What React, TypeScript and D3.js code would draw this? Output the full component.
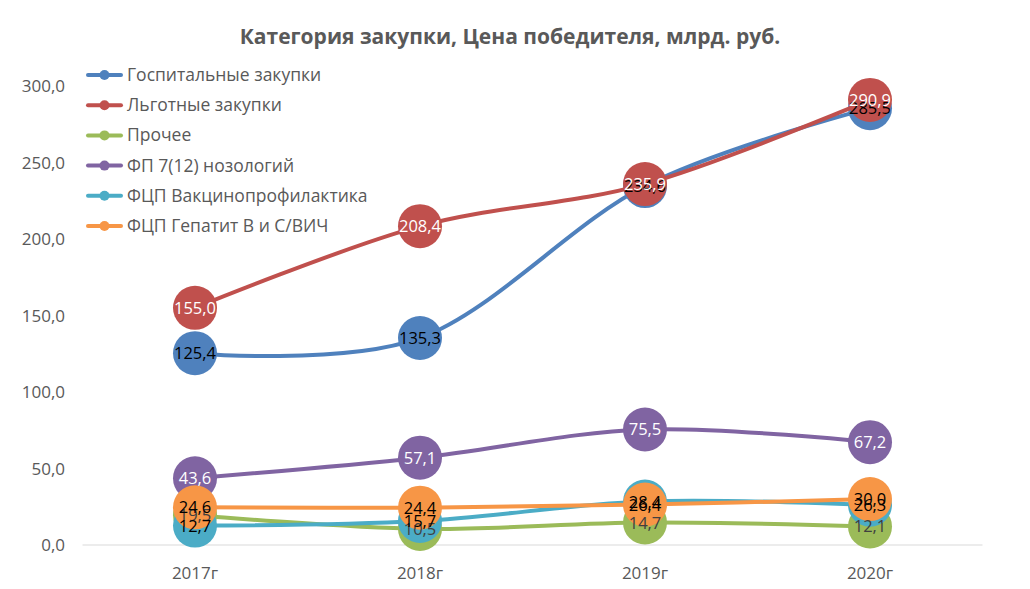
import React from "react";
import * as d3 from "d3";

const categories = ["2017г", "2018г", "2019г", "2020г"];
const seriesNames = [
  "Госпитальные закупки",
  "Льготные закупки",
  "Прочее",
  "ФП 7(12) нозологий",
  "ФЦП Вакцинопрофилактика",
  "ФЦП Гепатит В и С/ВИЧ",
];
const hospital = [125.4, 135.3, 234.6, 285.5];
const preferential = [155.0, 208.4, 235.9, 290.9];
const other = [19.5, 10.5, 14.7, 12.1];
const fp7 = [43.6, 57.1, 75.5, 67.2];
const vaccine = [12.7, 15.7, 28.4, 26.3];
const hepatitis = [24.6, 24.4, 26.4, 30.0];
const yTicks = [0, 50, 100, 150, 200, 250, 300];

const colors = ["#4F81BD", "#C0504D", "#9BBB59", "#8064A2", "#4BACC6", "#F79646"];
const labelColors = ["#000000", "#FFFFFF", "#404040", "#FFFFFF", "#000000", "#000000"];
const allSeries = [hospital, preferential, other, fp7, vaccine, hepatitis];

const W = 1030;
const H = 589;
const font = "'Open Sans', sans-serif";

export default function App() {
  const x = d3.scaleBand<string>().domain(categories).range([82.5, 982.5]);
  const y = d3.scaleLinear().domain([0, 300]).range([545, 86]);
  const cx = (c: string) => (x(c) as number) + x.bandwidth() / 2;
  const line = d3
    .line<number>()
    .x((_, i) => cx(categories[i]))
    .y((d) => y(d))
    .curve(d3.curveCardinal.tension(0));
  const fmt = (v: number) => v.toFixed(1).replace(".", ",");

  return (
    <svg width={W} height={H} style={{ position: "absolute", left: 0, top: 0, background: "#fff" }}>
      <text x={510} y={44} textAnchor="middle" fontFamily={font} fontWeight="bold" fontSize={21} fill="#595959">
        Категория закупки, Цена победителя, млрд. руб.
      </text>
      <line x1={82.5} x2={982.5} y1={y(0)} y2={y(0)} stroke="#d9d9d9" strokeWidth={1} />
      {yTicks.map((t) => (
        <text key={t} x={65} y={y(t) + 6} textAnchor="end" fontFamily={font} fontSize={17} fill="#595959">
          {fmt(t)}
        </text>
      ))}
      {categories.map((c) => (
        <text key={c} x={cx(c)} y={579} textAnchor="middle" fontFamily={font} fontSize={17} fill="#595959">
          {c}
        </text>
      ))}
      {allSeries.map((s, si) => (
        <g key={si}>
          <path d={line(s) as string} fill="none" stroke={colors[si]} strokeWidth={4} strokeLinecap="round" />
          {s.map((v, i) => (
            <circle key={i} cx={cx(categories[i])} cy={y(v)} r={22} fill={colors[si]} />
          ))}
        </g>
      ))}
      {allSeries.map((s, si) => (
        <g key={"l" + si}>
          {s.map((v, i) => (
            <text
              key={i}
              x={cx(categories[i])}
              y={y(v) + 6}
              textAnchor="middle"
              fontFamily={font}
              fontSize={16.5}
              fill={labelColors[si]}
            >
              {fmt(v)}
            </text>
          ))}
        </g>
      ))}
      {seriesNames.map((n, i) => {
        const ly = 75 + i * 30.2;
        return (
          <g key={n}>
            <line x1={88} x2={121} y1={ly} y2={ly} stroke={colors[i]} strokeWidth={4} strokeLinecap="round" />
            <circle cx={104.5} cy={ly} r={5} fill={colors[i]} />
            <text x={127} y={ly + 6} fontFamily={font} fontSize={17.5} fill="#595959">
              {n}
            </text>
          </g>
        );
      })}
    </svg>
  );
}
